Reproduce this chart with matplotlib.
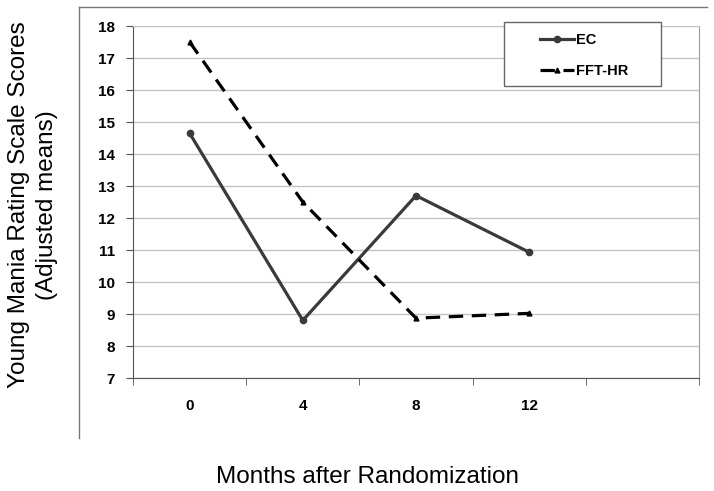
import numpy as np
import matplotlib
matplotlib.use("Agg")
import matplotlib.pyplot as plt
from matplotlib.lines import Line2D
from matplotlib.patches import Rectangle

plt.rcParams['font.family'] = ['Liberation Sans', 'DejaVu Sans']

# data
months = ['0', '4', '8', '12', '']
ec = [14.65, 8.8, 12.7, 10.93]
fft_hr = [17.5, 12.5, 8.87, 9.02]

fig = plt.figure(figsize=(7.14, 4.91), dpi=100)
W, H = 714, 491
ax = fig.add_axes([133 / W, 1 - 378 / H, (699 - 133) / W, 352 / H])

x = np.arange(len(ec))
ax.plot(x, ec, color='#3a3a3a', lw=2.3, marker='o', ms=4.5,
        solid_joinstyle='miter', label='EC')
ax.plot(x, fft_hr, color='black', lw=2.3, marker='^', ms=3.5,
        dashes=(4.5, 2.7), label='FFT-HR')

ax.set_ylim(7, 18)
ax.set_yticks(range(7, 19))
ax.set_xlim(-0.5, len(months) - 0.5)
ax.set_xticks(range(len(months)))
ax.set_xticklabels(months)
ax.set_xticks(np.arange(-0.5, len(months)), minor=True)
ax.tick_params(axis='x', which='major', length=0, pad=15)
ax.tick_params(axis='x', which='minor', length=5, color='#555555')
ax.tick_params(axis='y', length=5, color='#555555', pad=8)
for lab in ax.get_xticklabels() + ax.get_yticklabels():
    lab.set_fontsize(11)
    lab.set_fontweight('bold')

ax.grid(axis='y', color='#c4c4c4', lw=1)
ax.set_axisbelow(True)
ax.spines['left'].set_color('#555555')
ax.spines['bottom'].set_color('#555555')
ax.spines['right'].set_color('#999999')
ax.spines['top'].set_color('#c4c4c4')

# legend box
fig.add_artist(Rectangle((504 / W, 1 - 86 / H), (661 - 504) / W, (86 - 22) / H,
                         transform=fig.transFigure, facecolor='white',
                         edgecolor='#666666', lw=1, zorder=3))
leg = fig.legend(handles=ax.get_lines(), loc='upper left',
                 bbox_to_anchor=(533 / W, 1 - 26 / H), frameon=False,
                 borderpad=0, handlelength=2.3, handletextpad=0.15,
                 labelspacing=1.12, prop={'weight': 'bold', 'size': 10.5})
leg.set_zorder(4)

# outer chart frame (left and top edges)
fig.add_artist(Line2D([79 / W, 79 / W], [1 - 7 / H, 1 - 438 / H],
                      transform=fig.transFigure, color='#777777', lw=1))
fig.add_artist(Line2D([79 / W, 707 / W], [1 - 7 / H, 1 - 7 / H],
                      transform=fig.transFigure, color='#777777', lw=1))

fig.text(33 / W, 1 - 205 / H,
         'Young Mania Rating Scale Scores\n(Adjusted means)',
         rotation=90, ha='center', va='center', multialignment='center',
         fontsize=17.5, linespacing=1.3)
fig.text(368 / W, 1 - 483 / H, 'Months after Randomization',
         ha='center', va='baseline', fontsize=17.5)

fig.savefig('out.png', dpi=100)
